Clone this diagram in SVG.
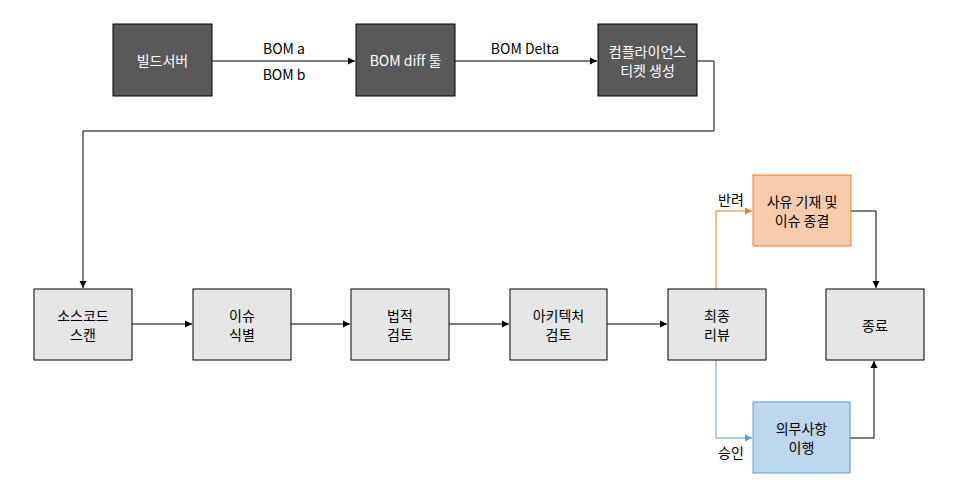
<svg xmlns="http://www.w3.org/2000/svg" width="963" height="490" viewBox="0 0 963 490">
<defs>
<style>
text{font-family:"Noto Sans CJK KR","Noto Sans",sans-serif;font-size:14px;text-anchor:middle;dominant-baseline:central;fill:#000}
.dark rect{fill:#595959;stroke:#000;stroke-width:1}
.dark text{fill:#fff}
.gray rect{fill:#e6e6e6;stroke:#000;stroke-width:1}
.orange rect{fill:#f8cbad;stroke:#ed7d31;stroke-width:1}
.blue rect{fill:#bdd7ee;stroke:#5b9bd5;stroke-width:1}
.c{fill:none;stroke:#000;stroke-width:1}
.co{fill:none;stroke:#ed7d31;stroke-width:1}
.cb{fill:none;stroke:#5b9bd5;stroke-width:1}
</style>
<marker id="ak" markerWidth="8" markerHeight="8" refX="7" refY="4" orient="auto" markerUnits="userSpaceOnUse"><path d="M0,0.5 L7,4 L0,7.5 Z" fill="#000"/></marker>
<marker id="ao" markerWidth="8" markerHeight="8" refX="7" refY="4" orient="auto" markerUnits="userSpaceOnUse"><path d="M0,0.5 L7,4 L0,7.5 Z" fill="#ed7d31"/></marker>
<marker id="ab" markerWidth="8" markerHeight="8" refX="7" refY="4" orient="auto" markerUnits="userSpaceOnUse"><path d="M0,0.5 L7,4 L0,7.5 Z" fill="#5b9bd5"/></marker>
</defs>
<rect width="963" height="490" fill="#fff"/>
<g id="connectors">
<path class="c" d="M212,61 H355" marker-end="url(#ak)"/>
<path class="c" d="M455,61 H597" marker-end="url(#ak)"/>
<path class="c" d="M697,61 H714 V131 H83 V288" marker-end="url(#ak)"/>
<path class="c" d="M132,324 H192" marker-end="url(#ak)"/>
<path class="c" d="M291,324 H350" marker-end="url(#ak)"/>
<path class="c" d="M449,324 H509" marker-end="url(#ak)"/>
<path class="c" d="M607,324 H667" marker-end="url(#ak)"/>
<path class="co" d="M716,289 V211 H752" marker-end="url(#ao)"/>
<path class="cb" d="M716,360 V438 H752" marker-end="url(#ab)"/>
<path class="c" d="M851,211 H876 V288" marker-end="url(#ak)"/>
<path class="c" d="M850,438 H874 V361" marker-end="url(#ak)"/>
<text x="284" y="48">BOM a</text>
<text x="284" y="74">BOM b</text>
<text x="525" y="48">BOM Delta</text>
<text x="731" y="199">반려</text>
<text x="731" y="452">승인</text>
</g>
<g id="n1" class="dark"><rect x="113" y="24" width="99" height="72"/><text x="162.5" y="60">빌드서버</text></g>
<g id="n2" class="dark"><rect x="356" y="24" width="99" height="72"/><text x="405.5" y="60">BOM diff 툴</text></g>
<g id="n3" class="dark"><rect x="598" y="24" width="99" height="72"/><text x="647.5" y="51">컴플라이언스</text><text x="647.5" y="70">티켓 생성</text></g>
<g id="n4" class="gray"><rect x="34" y="289" width="98" height="71"/><text x="83" y="315">소스코드</text><text x="83" y="334">스캔</text></g>
<g id="n5" class="gray"><rect x="193" y="289" width="98" height="71"/><text x="242" y="315">이슈</text><text x="242" y="334">식별</text></g>
<g id="n6" class="gray"><rect x="351" y="289" width="98" height="71"/><text x="400" y="315">법적</text><text x="400" y="334">검토</text></g>
<g id="n7" class="gray"><rect x="510" y="289" width="97" height="71"/><text x="558.5" y="315">아키텍처</text><text x="558.5" y="334">검토</text></g>
<g id="n8" class="gray"><rect x="668" y="289" width="98" height="71"/><text x="717" y="315">최종</text><text x="717" y="334">리뷰</text></g>
<g id="n9" class="gray"><rect x="826" y="289" width="98" height="71"/><text x="875" y="325">종료</text></g>
<g id="n10" class="orange"><rect x="753" y="175" width="98" height="71"/><text x="802" y="201">사유 기재 및</text><text x="802" y="220">이슈 종결</text></g>
<g id="n11" class="blue"><rect x="753" y="402" width="97" height="71"/><text x="801.5" y="428">의무사항</text><text x="801.5" y="447">이행</text></g>
</svg>
